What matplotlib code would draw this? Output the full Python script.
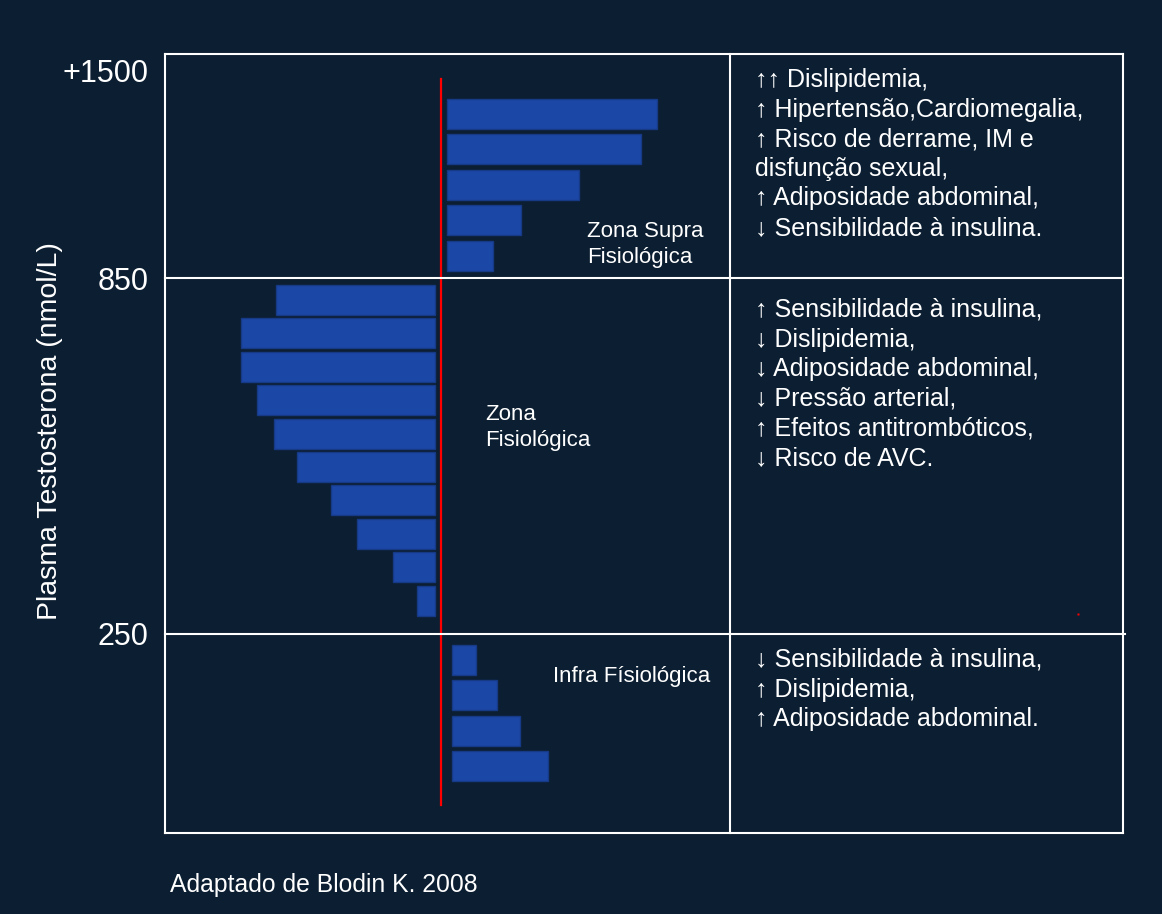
import matplotlib
matplotlib.use("Agg")
import matplotlib.pyplot as plt

plt.rcParams['font.family'] = ['Liberation Sans', 'DejaVu Sans']

# data
supra_widths = [210, 194, 132, 74, 46]
physio_widths = [159, 194, 194, 178, 161, 138, 104, 78, 42, 18]
infra_widths = [24, 45, 68, 96]
tick_labels = ["+1500", "850", "250"]

supra_text = ["\u2191\u2191 Dislipidemia,",
              "\u2191 Hipertensão,Cardiomegalia,",
              "\u2191 Risco de derrame, IM e",
              "disfunção sexual,",
              "\u2191 Adiposidade abdominal,",
              "\u2193 Sensibilidade à insulina."]
physio_text = ["\u2191 Sensibilidade à insulina,",
               "\u2193 Dislipidemia,",
               "\u2193 Adiposidade abdominal,",
               "\u2193 Pressão arterial,",
               "\u2191 Efeitos antitrombóticos,",
               "\u2193 Risco de AVC."]
infra_text = ["\u2193 Sensibilidade à insulina,",
              "\u2191 Dislipidemia,",
              "\u2191 Adiposidade abdominal."]

bg = "#0c1e31"
bar_color = "#1b47a6"
edge_color = "#163a85"

W, H = 1162, 914
fig = plt.figure(figsize=(W / 100, H / 100), dpi=100, facecolor=bg)
# axes covers the frame box; x=0 at the red line
x0 = 441
left, right, top, bottom = 165, 1123, 54, 833
ax = fig.add_axes([left / W, 1 - bottom / H, (right - left) / W, (bottom - top) / H])
ax.set_facecolor(bg)
ax.set_xlim(left - x0, right - x0)
ax.set_ylim(bottom, top)
for s in ax.spines.values():
    s.set_visible(False)
ax.set_xticks([])

# bars
h = 30
ys = [114 + i * 35.4 for i in range(len(supra_widths))]
ax.barh(ys, supra_widths, height=h, left=6, color=bar_color, edgecolor=edge_color, lw=1)
ys = [300 + i * 33.4 for i in range(len(physio_widths))]
ax.barh(ys, [-w for w in physio_widths], height=h, left=-6, color=bar_color,
        edgecolor=edge_color, lw=1)
ys = [660 + i * 35.3 for i in range(len(infra_widths))]
ax.barh(ys, infra_widths, height=h, left=11, color=bar_color, edgecolor=edge_color, lw=1)

# red reference line
ax.plot([0, 0], [79, 805], color="#ff0000", lw=1.6)
ax.plot([1078 - x0], [614], marker="s", ms=1.5, color="#ff0000", mec="none")

# frame & zone lines
lw = 1.5
xl, xr = left - x0, right - x0
for y in [top, 278, 634, bottom]:
    ax.plot([xl, xr + (2 if y == 634 else 0)], [y, y], color="white", lw=lw,
            clip_on=False, solid_capstyle="projecting")
for x in [xl, 730 - x0, xr]:
    ax.plot([x, x], [top, bottom], color="white", lw=lw, clip_on=False,
            solid_capstyle="projecting")

# y ticks
ax.set_yticks([70, 278, 634])
ax.set_yticklabels(tick_labels)
ax.tick_params(axis="y", length=0, pad=12, labelsize=22, labelcolor="white")
fig.text(50 / W, 1 - 431 / H, "Plasma Testosterona (nmol/L)", rotation=90,
         ha="center", va="center", color="white", fontsize=20.5)

# zone labels
zfs = 16
ax.text(587 - x0, 232, "Zona Supra", color="white", fontsize=zfs, va="center")
ax.text(587 - x0, 257, "Fisiológica", color="white", fontsize=zfs, va="center")
ax.text(485 - x0, 415, "Zona", color="white", fontsize=zfs, va="center")
ax.text(485 - x0, 441, "Fisiológica", color="white", fontsize=zfs, va="center")
ax.text(553 - x0, 677, "Infra Físiológica", color="white", fontsize=zfs, va="center")

# effect lists
for lines, y_start in [(supra_text, 80), (physio_text, 310), (infra_text, 660)]:
    for i, t in enumerate(lines):
        ax.text(755 - x0, y_start + i * 29.6, t, color="white", fontsize=18, va="center")

fig.text(170 / W, 1 - 885 / H, "Adaptado de Blodin K. 2008", color="white",
         fontsize=17.8, va="center", ha="left")

fig.savefig("out.png", dpi=100, facecolor=bg)
